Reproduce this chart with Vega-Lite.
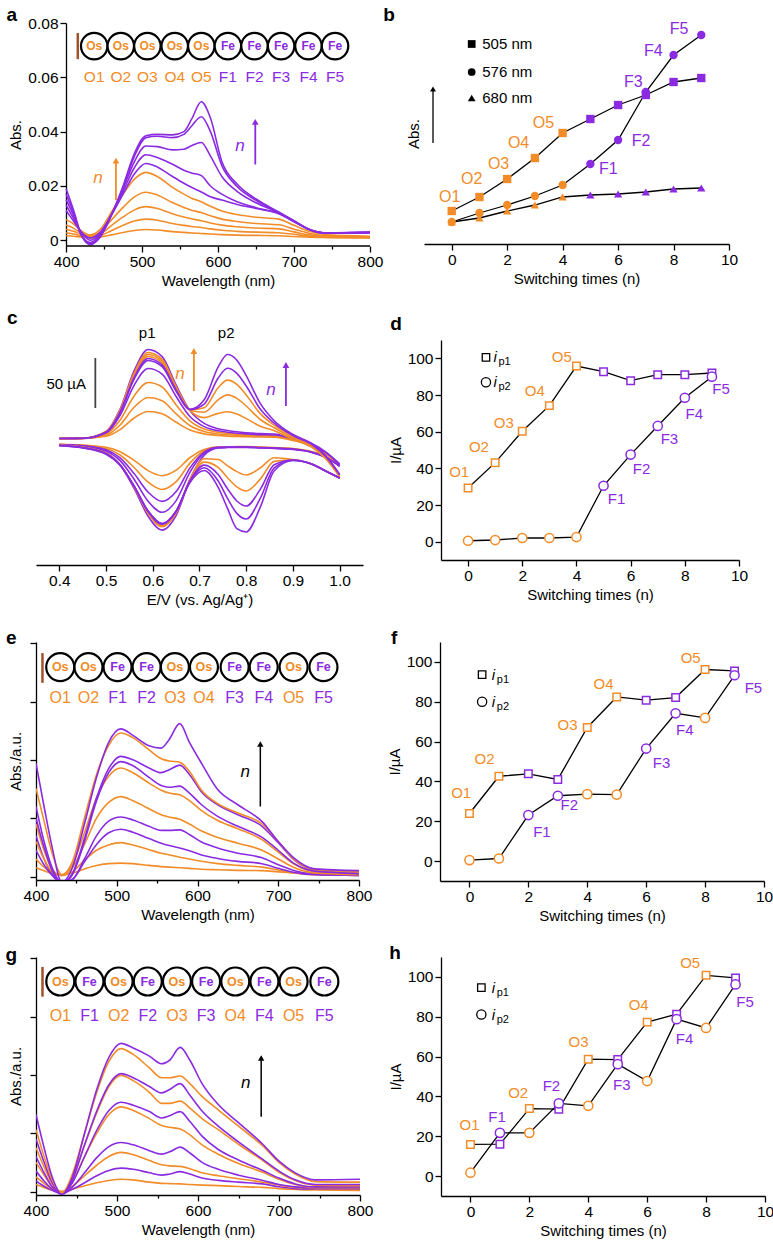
{
"$schema":"https://vega.github.io/schema/vega-lite/v6.json",
"config":{"font":"Liberation Sans","view":{"stroke":null},"axis":{"domainColor":"black","domainWidth":1.3,"tickColor":"black","tickWidth":1.3,"labelColor":"black","labelFontSize":15.5,"titleFontSize":15,"titleFontWeight":"normal","titleColor":"black","grid":false,"labelPadding":2,"labelFlush":false,"labelOverlap":false,"labelBound":false},"text":{"color":"black"}},
"datasets":{
"specA":[
{"x":400,"O1":0.0017,"O2":0.0028,"O3":0.0041,"O4":0.0056,"O5":0.0076,"F1":0.011,"F2":0.013,"F3":0.015,"F4":0.017,"F5":0.019},
{"x":410,"O1":0.0015,"O2":0.0023,"O3":0.0033,"O4":0.0044,"O5":0.006,"F1":0.007,"F2":0.008,"F3":0.009,"F4":0.01,"F5":0.011},
{"x":420,"O1":0.0012,"O2":0.0016,"O3":0.0021,"O4":0.0027,"O5":0.0035,"F1":0.003,"F2":0.003,"F3":0.002,"F4":0.002,"F5":0.002},
{"x":432,"O1":0.001,"O2":0.0011,"O3":0.0014,"O4":0.0016,"O5":0.002,"F1":0.0008,"F2":0,"F3":-0.0008,"F4":-0.0012,"F5":-0.0016},
{"x":445,"O1":0.0012,"O2":0.0017,"O3":0.0023,"O4":0.003,"O5":0.004,"F1":0.003,"F2":0.0025,"F3":0.002,"F4":0.0015,"F5":0.0012},
{"x":460,"O1":0.002,"O2":0.0036,"O3":0.0055,"O4":0.0076,"O5":0.0105,"F1":0.0095,"F2":0.0095,"F3":0.0095,"F4":0.0095,"F5":0.0095},
{"x":475,"O1":0.0029,"O2":0.0055,"O3":0.0086,"O4":0.0121,"O5":0.017,"F1":0.017,"F2":0.018,"F3":0.019,"F4":0.0195,"F5":0.02},
{"x":490,"O1":0.0036,"O2":0.0071,"O3":0.0112,"O4":0.016,"O5":0.0225,"F1":0.0245,"F2":0.0268,"F3":0.029,"F4":0.031,"F5":0.032},
{"x":505,"O1":0.004,"O2":0.0078,"O3":0.0124,"O4":0.0177,"O5":0.025,"F1":0.0283,"F2":0.0315,"F3":0.0347,"F4":0.0378,"F5":0.0385},
{"x":520,"O1":0.0038,"O2":0.0074,"O3":0.0117,"O4":0.0167,"O5":0.0235,"F1":0.027,"F2":0.0305,"F3":0.0345,"F4":0.0383,"F5":0.039},
{"x":540,"O1":0.0032,"O2":0.0062,"O3":0.0098,"O4":0.0139,"O5":0.0195,"F1":0.0235,"F2":0.028,"F3":0.0333,"F4":0.0378,"F5":0.0388},
{"x":555,"O1":0.0029,"O2":0.0055,"O3":0.0086,"O4":0.0121,"O5":0.017,"F1":0.021,"F2":0.0258,"F3":0.0335,"F4":0.039,"F5":0.04},
{"x":565,"O1":0.0027,"O2":0.0051,"O3":0.0079,"O4":0.0111,"O5":0.0155,"F1":0.0195,"F2":0.0248,"F3":0.0348,"F4":0.042,"F5":0.0445},
{"x":578,"O1":0.0025,"O2":0.0047,"O3":0.0072,"O4":0.0102,"O5":0.0142,"F1":0.0178,"F2":0.0238,"F3":0.036,"F4":0.0455,"F5":0.051},
{"x":590,"O1":0.0023,"O2":0.0042,"O3":0.0064,"O4":0.009,"O5":0.0125,"F1":0.016,"F2":0.02,"F3":0.031,"F4":0.04,"F5":0.045},
{"x":605,"O1":0.0021,"O2":0.0037,"O3":0.0056,"O4":0.0078,"O5":0.0108,"F1":0.0148,"F2":0.017,"F3":0.0235,"F4":0.0275,"F5":0.029},
{"x":625,"O1":0.0019,"O2":0.0033,"O3":0.005,"O4":0.0069,"O5":0.0095,"F1":0.0132,"F2":0.0142,"F3":0.018,"F4":0.0198,"F5":0.0207},
{"x":650,"O1":0.0018,"O2":0.003,"O3":0.0045,"O4":0.0062,"O5":0.0085,"F1":0.0117,"F2":0.012,"F3":0.0138,"F4":0.0147,"F5":0.0152},
{"x":680,"O1":0.0017,"O2":0.0028,"O3":0.0042,"O4":0.0057,"O5":0.0078,"F1":0.0098,"F2":0.0099,"F3":0.0101,"F4":0.0102,"F5":0.0104},
{"x":700,"O1":0.0014,"O2":0.0022,"O3":0.0031,"O4":0.0041,"O5":0.0055,"F1":0.0068,"F2":0.0069,"F3":0.007,"F4":0.0071,"F5":0.0072},
{"x":720,"O1":0.0011,"O2":0.0015,"O3":0.002,"O4":0.0026,"O5":0.0033,"F1":0.004,"F2":0.004,"F3":0.004,"F4":0.004,"F5":0.0041},
{"x":745,"O1":0.001,"O2":0.0011,"O3":0.0014,"O4":0.0016,"O5":0.002,"F1":0.0026,"F2":0.0026,"F3":0.0026,"F4":0.0026,"F5":0.0027},
{"x":800,"O1":0.0009,"O2":0.001,"O3":0.0011,"O4":0.0013,"O5":0.0015,"F1":0.0027,"F2":0.0028,"F3":0.0029,"F4":0.0029,"F5":0.003}
],
"specE":[
{"x":400,"O1":1.5,"O2":3,"O3":6,"O4":9,"O5":15.1,"F1":4.5,"F2":7,"F3":10,"F4":12,"F5":19.4},
{"x":410,"O1":1,"O2":1.6,"O3":3,"O4":4.5,"O5":9.5,"F1":2,"F2":3,"F3":5,"F4":6,"F5":12},
{"x":420,"O1":0.5,"O2":0.6,"O3":0.8,"O4":1.2,"O5":4,"F1":0.2,"F2":0.3,"F3":1,"F4":1.5,"F5":5},
{"x":432,"O1":0.3,"O2":0.2,"O3":0.2,"O4":0.2,"O5":0.3,"F1":-1,"F2":-1,"F3":-1.2,"F4":-1,"F5":-1},
{"x":445,"O1":0.6,"O2":0.8,"O3":1.5,"O4":2,"O5":2.5,"F1":-0.5,"F2":-0.5,"F3":0.3,"F4":0.5,"F5":1.5},
{"x":460,"O1":1.3,"O2":2.8,"O3":5.5,"O4":7.5,"O5":10,"F1":2.5,"F2":3,"F3":6,"F4":6.5,"F5":9},
{"x":475,"O1":1.9,"O2":4.5,"O3":10,"O4":13.5,"O5":17.5,"F1":5.5,"F2":7,"F3":13,"F4":13.5,"F5":17},
{"x":490,"O1":2.2,"O2":5.4,"O3":12.7,"O4":17.2,"O5":22.5,"F1":7.5,"F2":9.5,"F3":17.8,"F4":18.5,"F5":23},
{"x":505,"O1":2.3,"O2":5.8,"O3":13.7,"O4":18.6,"O5":24.6,"F1":8.1,"F2":10.2,"F3":19.7,"F4":20.6,"F5":25.3},
{"x":520,"O1":2.2,"O2":5.4,"O3":13,"O4":17.8,"O5":23.8,"F1":7.6,"F2":9.7,"F3":19,"F4":20,"F5":24.2},
{"x":540,"O1":1.9,"O2":4.6,"O3":11.6,"O4":16,"O5":21.7,"F1":6.5,"F2":8.6,"F3":17,"F4":18.6,"F5":22.4},
{"x":555,"O1":1.7,"O2":4,"O3":10.6,"O4":14.8,"O5":20.2,"F1":5.7,"F2":7.9,"F3":15.6,"F4":17.8,"F5":22},
{"x":565,"O1":1.6,"O2":3.7,"O3":10.2,"O4":14.3,"O5":19.8,"F1":5.3,"F2":7.9,"F3":15.3,"F4":18.3,"F5":23.5},
{"x":578,"O1":1.5,"O2":3.3,"O3":9.8,"O4":14,"O5":19.6,"F1":4.9,"F2":8,"F3":15.5,"F4":19.1,"F5":26.2},
{"x":590,"O1":1.4,"O2":3,"O3":9,"O4":13,"O5":18,"F1":4.4,"F2":7.2,"F3":14.3,"F4":17.5,"F5":23},
{"x":605,"O1":1.25,"O2":2.6,"O3":7.8,"O4":11.3,"O5":14.8,"F1":3.7,"F2":5.9,"F3":12.3,"F4":14.5,"F5":19.4},
{"x":625,"O1":1.15,"O2":2.2,"O3":6.7,"O4":9.6,"O5":12.5,"F1":3.1,"F2":4.9,"F3":10.3,"F4":12.3,"F5":14.9},
{"x":650,"O1":1.05,"O2":1.9,"O3":5.7,"O4":8.2,"O5":10.9,"F1":2.6,"F2":4,"F3":8.6,"F4":10.6,"F5":12.3},
{"x":680,"O1":1,"O2":1.6,"O3":4.5,"O4":6.3,"O5":9,"F1":2.2,"F2":3.2,"F3":6.7,"F4":8.6,"F5":9.4},
{"x":700,"O1":0.8,"O2":1.1,"O3":3,"O4":4.2,"O5":6,"F1":1.4,"F2":2,"F3":4.5,"F4":5.8,"F5":6},
{"x":720,"O1":0.6,"O2":0.6,"O3":1.5,"O4":2.1,"O5":2.9,"F1":0.7,"F2":1,"F3":2.2,"F4":2.8,"F5":3.1},
{"x":745,"O1":0.4,"O2":0.3,"O3":0.6,"O4":0.8,"O5":1.2,"F1":0.3,"F2":0.4,"F3":0.9,"F4":1.1,"F5":1.3},
{"x":800,"O1":0.3,"O2":0.2,"O3":0.3,"O4":0.4,"O5":0.8,"F1":0.2,"F2":0.2,"F3":0.5,"F4":0.6,"F5":1}
],
"specG":[
{"x":400,"O1":1.2,"O2":2.5,"O3":5,"O4":7.5,"O5":10.6,"F1":1.8,"F2":3.5,"F3":6,"F4":9,"F5":13.2},
{"x":410,"O1":0.7,"O2":1.4,"O3":2.8,"O4":4.2,"O5":6,"F1":0.9,"F2":1.8,"F3":3.2,"F4":5,"F5":7.5},
{"x":420,"O1":0.2,"O2":0.4,"O3":0.8,"O4":1.3,"O5":2,"F1":0.2,"F2":0.4,"F3":0.8,"F4":1.5,"F5":2.5},
{"x":432,"O1":0,"O2":0,"O3":-0.2,"O4":-0.2,"O5":-0.3,"F1":-0.3,"F2":-0.4,"F3":-0.5,"F4":-0.5,"F5":-0.5},
{"x":445,"O1":0.4,"O2":0.9,"O3":1.8,"O4":2.5,"O5":3,"F1":0.4,"F2":0.8,"F3":1.5,"F4":2,"F5":2.5},
{"x":460,"O1":1,"O2":2.7,"O3":6,"O4":8,"O5":10,"F1":1.5,"F2":3.2,"F3":6,"F4":8,"F5":10},
{"x":475,"O1":1.5,"O2":4.5,"O3":10,"O4":13.5,"O5":17,"F1":2.7,"F2":5.8,"F3":10.5,"F4":13.8,"F5":17.5},
{"x":490,"O1":1.9,"O2":6,"O3":13.2,"O4":18,"O5":22.3,"F1":3.6,"F2":7.7,"F3":13.9,"F4":18.3,"F5":23},
{"x":505,"O1":2.1,"O2":6.7,"O3":14.5,"O4":19.9,"O5":24.5,"F1":4,"F2":8.4,"F3":15.3,"F4":20.2,"F5":25.4},
{"x":520,"O1":2,"O2":6.3,"O3":13.9,"O4":19,"O5":23.5,"F1":3.8,"F2":8,"F3":14.8,"F4":19.5,"F5":24.6},
{"x":540,"O1":1.6,"O2":5.3,"O3":12.5,"O4":17,"O5":21.2,"F1":3.2,"F2":7,"F3":13.7,"F4":18,"F5":23.2},
{"x":555,"O1":1.4,"O2":4.6,"O3":11.3,"O4":15.1,"O5":19.5,"F1":2.8,"F2":6.4,"F3":12.6,"F4":16.9,"F5":21.9},
{"x":565,"O1":1.35,"O2":4.4,"O3":11,"O4":15.1,"O5":19.5,"F1":3,"F2":6.8,"F3":13,"F4":17.5,"F5":22.5},
{"x":578,"O1":1.3,"O2":4.3,"O3":10.7,"O4":15.5,"O5":19.8,"F1":3.4,"F2":7.6,"F3":13.7,"F4":18.5,"F5":24.7},
{"x":590,"O1":1.2,"O2":3.9,"O3":9.7,"O4":14.3,"O5":18.5,"F1":3,"F2":6.6,"F3":12,"F4":16.5,"F5":22.5},
{"x":605,"O1":1.1,"O2":3.2,"O3":8,"O4":12.5,"O5":16.3,"F1":2.3,"F2":5,"F3":9.5,"F4":13.8,"F5":18.5},
{"x":625,"O1":1,"O2":2.7,"O3":6.4,"O4":10.6,"O5":14,"F1":1.9,"F2":3.8,"F3":7.2,"F4":11.2,"F5":14.9},
{"x":650,"O1":0.85,"O2":2.2,"O3":4.8,"O4":8.1,"O5":11.2,"F1":1.6,"F2":2.8,"F3":5.4,"F4":8.5,"F5":11.8},
{"x":680,"O1":0.7,"O2":1.6,"O3":3.3,"O4":5.3,"O5":7.8,"F1":1.3,"F2":1.9,"F3":3.6,"F4":5.5,"F5":8.1},
{"x":700,"O1":0.5,"O2":1.1,"O3":2.1,"O4":3.3,"O5":5,"F1":0.8,"F2":1.2,"F3":2.3,"F4":3.5,"F5":5.2},
{"x":720,"O1":0.35,"O2":0.7,"O3":1.2,"O4":1.9,"O5":3,"F1":0.5,"F2":0.8,"F3":1.3,"F4":2,"F5":3.2},
{"x":745,"O1":0.25,"O2":0.5,"O3":0.7,"O4":1.1,"O5":1.7,"F1":0.4,"F2":0.6,"F3":0.8,"F4":1.2,"F5":2},
{"x":800,"O1":0.2,"O2":0.5,"O3":0.7,"O4":1,"O5":1.6,"F1":0.4,"F2":0.6,"F3":0.8,"F4":1.2,"F5":2.1}
],
"cv":[
{"x":0.40,"O1u":2.5,"O1d":-3.3,"O2u":2.5,"O2d":-3.5,"O3u":2.5,"O3d":-3.6,"O4u":2.5,"O4d":-3.7,"O5u":2.5,"O5d":-3.9,"F1u":2.5,"F1d":-4.1,"F2u":2.5,"F2d":-4.3,"F3u":2.5,"F3d":-4.4,"F4u":2.5,"F4d":-4.5,"F5u":2.5,"F5d":-4.7},
{"x":0.45,"O1u":2.6,"O1d":-4.0,"O2u":2.6,"O2d":-4.4,"O3u":2.6,"O3d":-4.7,"O4u":2.6,"O4d":-5.1,"O5u":2.7,"O5d":-5.6,"F1u":2.7,"F1d":-6.1,"F2u":2.7,"F2d":-6.3,"F3u":2.7,"F3d":-6.5,"F4u":2.7,"F4d":-6.8,"F5u":2.7,"F5d":-7.0},
{"x":0.50,"O1u":4.7,"O1d":-6.2,"O2u":5.8,"O2d":-7.6,"O3u":7.0,"O3d":-8.8,"O4u":8.1,"O4d":-9.9,"O5u":9.6,"O5d":-11.7,"F1u":9.4,"F1d":-12.1,"F2u":9.2,"F2d":-12.4,"F3u":9.1,"F3d":-12.6,"F4u":8.9,"F4d":-12.9,"F5u":8.7,"F5d":-13.2},
{"x":0.53,"O1u":11.4,"O1d":-10.7,"O2u":16,"O2d":-14,"O3u":21,"O3d":-16.9,"O4u":25.6,"O4d":-19.6,"O5u":31.9,"O5d":-23.9,"F1u":30.9,"F1d":-23.7,"F2u":30.2,"F2d":-23.8,"F3u":29.6,"F3d":-23.8,"F4u":28.9,"F4d":-24.1,"F5u":28.2,"F5d":-24.2},
{"x":0.56,"O1u":23,"O1d":-19.3,"O2u":33.7,"O2d":-26.5,"O3u":45.1,"O3d":-32.6,"O4u":55.7,"O4d":-38.2,"O5u":70.1,"O5d":-47.4,"F1u":67.9,"F1d":-46.0,"F2u":66.3,"F2d":-45.6,"F3u":64.8,"F3d":-45.2,"F4u":63.3,"F4d":-45.2,"F5u":61.8,"F5d":-45.2},
{"x":0.59,"O1u":29.5,"O1d":-29.6,"O2u":43.5,"O2d":-41.2,"O3u":58.5,"O3d":-51.1,"O4u":72.5,"O4d":-60.3,"O5u":91.5,"O5d":-75.2,"F1u":88.5,"F1d":-72.4,"F2u":86.5,"F2d":-71.4,"F3u":84.5,"F3d":-70.4,"F4u":82.5,"F4d":-70.2,"F5u":80.5,"F5d":-70.0},
{"x":0.62,"O1u":27.3,"O1d":-34.7,"O2u":40.2,"O2d":-48.5,"O3u":54,"O3d":-60.4,"O4u":66.9,"O4d":-71.3,"O5u":84.4,"O5d":-89.1,"F1u":81.6,"F1d":-85.7,"F2u":79.8,"F2d":-84.5,"F3u":77.9,"F3d":-83.2,"F4u":76.1,"F4d":-82.9,"F5u":74.3,"F5d":-82.5},
{"x":0.65,"O1u":18.7,"O1d":-29.2,"O2u":27.1,"O2d":-40.7,"O3u":36.1,"O3d":-50.6,"O4u":44.5,"O4d":-59.6,"O5u":55.9,"O5d":-74.3,"F1u":54.2,"F1d":-71.8,"F2u":53.1,"F2d":-71.1,"F3u":52.0,"F3d":-70.3,"F4u":50.9,"F4d":-70.1,"F5u":49.8,"F5d":-70.0},
{"x":0.68,"O1u":10.9,"O1d":-16.5,"O2u":15.2,"O2d":-21.9,"O3u":19.9,"O3d":-26.6,"O4u":24.2,"O4d":-30.9,"O5u":30.1,"O5d":-37.9,"F1u":30.4,"F1d":-37.9,"F2u":30.8,"F2d":-38.7,"F3u":31.2,"F3d":-39.4,"F4u":31.4,"F4d":-40.3,"F5u":31.7,"F5d":-41.2},
{"x":0.71,"O1u":7.1,"O1d":-8.4,"O2u":9.5,"O2d":-9.8,"O3u":12,"O3d":-11.1,"O4u":14.4,"O4d":-12.2,"O5u":17.6,"O5d":-14.1,"F1u":23.4,"F1d":-17.8,"F2u":28.7,"F2d":-21.1,"F3u":33.2,"F3d":-24.1,"F4u":36.9,"F4d":-26.8,"F5u":41.2,"F5d":-29.5},
{"x":0.74,"O1u":5.5,"O1d":-6.0,"O2u":7.0,"O2d":-6.2,"O3u":8.7,"O3d":-6.4,"O4u":10.2,"O4d":-6.6,"O5u":12.3,"O5d":-6.9,"F1u":27.6,"F1d":-18.5,"F2u":41.2,"F2d":-26.4,"F3u":53.3,"F3d":-33.6,"F4u":63.0,"F4d":-40.0,"F5u":74.2,"F5d":-46.3},
{"x":0.76,"O1u":4.9,"O1d":-6.2,"O2u":6.2,"O2d":-6.2,"O3u":7.5,"O3d":-6.3,"O4u":8.8,"O4d":-6.3,"O5u":10.5,"O5d":-6.4,"F1u":29.2,"F1d":-24.9,"F2u":46.1,"F2d":-36.7,"F3u":60.9,"F3d":-47.8,"F4u":72.7,"F4d":-57.4,"F5u":86.5,"F5d":-67.4},
{"x":0.78,"O1u":4.5,"O1d":-5.6,"O2u":5.6,"O2d":-5.8,"O3u":6.7,"O3d":-6,"O4u":7.8,"O4d":-6.2,"O5u":9.2,"O5d":-6.4,"F1u":26.9,"F1d":-30.6,"F2u":42.6,"F2d":-45.8,"F3u":56.6,"F3d":-60,"F4u":67.7,"F4d":-72.4,"F5u":80.8,"F5d":-87.7},
{"x":0.80,"O1u":4.3,"O1d":-5.6,"O2u":5.2,"O2d":-5.8,"O3u":6.1,"O3d":-6,"O4u":7.1,"O4d":-6.2,"O5u":8.3,"O5d":-6.4,"F1u":22.4,"F1d":-34.0,"F2u":35.0,"F2d":-50,"F3u":46.1,"F3d":-65,"F4u":55.0,"F4d":-78,"F5u":65.4,"F5d":-91},
{"x":0.83,"O1u":4.0,"O1d":-6.1,"O2u":4.8,"O2d":-6.3,"O3u":5.6,"O3d":-6.5,"O4u":6.4,"O4d":-6.7,"O5u":7.4,"O5d":-6.9,"F1u":14.8,"F1d":-27.0,"F2u":21.5,"F2d":-38.1,"F3u":27.4,"F3d":-48.4,"F4u":32.1,"F4d":-57.4,"F5u":37.6,"F5d":-66.3},
{"x":0.86,"O1u":3.9,"O1d":-6.6,"O2u":4.6,"O2d":-6.8,"O3u":5.3,"O3d":-7,"O4u":6.0,"O4d":-7.2,"O5u":7.0,"O5d":-7.4,"F1u":10.2,"F1d":-16.7,"F2u":13.2,"F2d":-20.4,"F3u":15.8,"F3d":-23.8,"F4u":17.8,"F4d":-26.8,"F5u":20.3,"F5d":-29.8},
{"x":0.90,"O1u":0.6,"O1d":-7.6,"O2u":1.1,"O2d":-7.8,"O3u":1.7,"O3d":-8,"O4u":2.3,"O4d":-8.2,"O5u":3.1,"O5d":-8.4,"F1u":1.6,"F1d":-18.5,"F2u":3.1,"F2d":-18.8,"F3u":4.4,"F3d":-19.0,"F4u":5.4,"F4d":-19.2,"F5u":6.5,"F5d":-19.5},
{"x":0.94,"O1u":-4.6,"O1d":-10.6,"O2u":-4.1,"O2d":-10.8,"O3u":-3.5,"O3d":-11,"O4u":-3,"O4d":-11.2,"O5u":-2.4,"O5d":-11.4,"F1u":-6.2,"F1d":-23,"F2u":-5.1,"F2d":-23,"F3u":-4.0,"F3d":-23,"F4u":-3.3,"F4d":-23,"F5u":-2.4,"F5d":-23},
{"x":0.97,"O1u":-12.7,"O1d":-15.6,"O2u":-12.3,"O2d":-15.8,"O3u":-11.8,"O3d":-16,"O4u":-11.4,"O4d":-16.2,"O5u":-10.8,"O5d":-16.4,"F1u":-17.8,"F1d":-30,"F2u":-16.8,"F2d":-30,"F3u":-15.9,"F3d":-30,"F4u":-15.3,"F4d":-30,"F5u":-14.6,"F5d":-30},
{"x":1.00,"O1u":-24.7,"O1d":-25,"O2u":-24.3,"O2d":-25,"O3u":-23.8,"O3d":-25,"O4u":-23.4,"O4d":-25,"O5u":-22.8,"O5d":-25,"F1u":-35.9,"F1d":-37,"F2u":-35.2,"F2d":-37,"F3u":-34.4,"F3d":-37,"F4u":-33.9,"F4d":-37,"F5u":-33.3,"F5d":-37}
],
"chainA":[{"x":437,"el":"Os","lab":"O1"},{"x":472,"el":"Os","lab":"O2"},{"x":507,"el":"Os","lab":"O3"},{"x":543,"el":"Os","lab":"O4"},{"x":578,"el":"Os","lab":"O5"},{"x":613,"el":"Fe","lab":"F1"},{"x":648,"el":"Fe","lab":"F2"},{"x":683,"el":"Fe","lab":"F3"},{"x":719,"el":"Fe","lab":"F4"},{"x":754,"el":"Fe","lab":"F5"}],
"chainE":[{"x":430,"el":"Os","lab":"O1"},{"x":465,"el":"Os","lab":"O2"},{"x":501,"el":"Fe","lab":"F1"},{"x":537,"el":"Fe","lab":"F2"},{"x":572,"el":"Os","lab":"O3"},{"x":608,"el":"Os","lab":"O4"},{"x":646,"el":"Fe","lab":"F3"},{"x":682,"el":"Fe","lab":"F4"},{"x":719,"el":"Os","lab":"O5"},{"x":756,"el":"Fe","lab":"F5"}],
"chainG":[{"x":430,"el":"Os","lab":"O1"},{"x":466,"el":"Fe","lab":"F1"},{"x":502,"el":"Os","lab":"O2"},{"x":538,"el":"Fe","lab":"F2"},{"x":574,"el":"Os","lab":"O3"},{"x":610,"el":"Fe","lab":"F3"},{"x":646,"el":"Os","lab":"O4"},{"x":682,"el":"Fe","lab":"F4"},{"x":718,"el":"Os","lab":"O5"},{"x":756,"el":"Fe","lab":"F5"}],
"bData":[
{"x":0,"k":"505","y":33,"c":"O"},{"x":1,"k":"505","y":47,"c":"O"},{"x":2,"k":"505","y":65,"c":"O"},{"x":3,"k":"505","y":86,"c":"O"},{"x":4,"k":"505","y":111,"c":"O"},{"x":5,"k":"505","y":125,"c":"F"},{"x":6,"k":"505","y":139,"c":"F"},{"x":7,"k":"505","y":149,"c":"F"},{"x":8,"k":"505","y":162,"c":"F"},{"x":9,"k":"505","y":166,"c":"F"},
{"x":0,"k":"576","y":22,"c":"O"},{"x":1,"k":"576","y":31,"c":"O"},{"x":2,"k":"576","y":39,"c":"O"},{"x":3,"k":"576","y":48,"c":"O"},{"x":4,"k":"576","y":59,"c":"O"},{"x":5,"k":"576","y":80,"c":"F"},{"x":6,"k":"576","y":104,"c":"F"},{"x":7,"k":"576","y":152,"c":"F"},{"x":8,"k":"576","y":189,"c":"F"},{"x":9,"k":"576","y":209,"c":"F"},
{"x":0,"k":"680","y":22,"c":"O"},{"x":1,"k":"680","y":26,"c":"O"},{"x":2,"k":"680","y":33,"c":"O"},{"x":3,"k":"680","y":39,"c":"O"},{"x":4,"k":"680","y":47,"c":"O"},{"x":5,"k":"680","y":49,"c":"F"},{"x":6,"k":"680","y":50,"c":"F"},{"x":7,"k":"680","y":52,"c":"F"},{"x":8,"k":"680","y":55,"c":"F"},{"x":9,"k":"680","y":56,"c":"F"}],
"bLeg":[{"k":"505","y":200,"t":"505 nm"},{"k":"576","y":172,"t":"576 nm"},{"k":"680","y":146,"t":"680 nm"}],
"bLab":[{"t":"O1","x":-0.07,"y":47,"c":"O"},{"t":"O2","x":0.72,"y":65,"c":"O"},{"t":"O3","x":1.69,"y":80,"c":"O"},{"t":"O4","x":2.41,"y":101,"c":"O"},{"t":"O5","x":3.31,"y":121,"c":"O"},{"t":"F1","x":5.65,"y":75,"c":"F"},{"t":"F2","x":6.83,"y":103,"c":"F"},{"t":"F3","x":6.55,"y":162,"c":"F"},{"t":"F4","x":7.27,"y":193,"c":"F"},{"t":"F5","x":8.2,"y":215,"c":"F"}],
"dData":[
{"x":0,"k":"p1","y":29.3,"c":"O"},{"x":1,"k":"p1","y":43.1,"c":"O"},{"x":2,"k":"p1","y":60.2,"c":"O"},{"x":3,"k":"p1","y":74.2,"c":"O"},{"x":4,"k":"p1","y":95.8,"c":"O"},{"x":5,"k":"p1","y":92.7,"c":"F"},{"x":6,"k":"p1","y":87.8,"c":"F"},{"x":7,"k":"p1","y":91.1,"c":"F"},{"x":8,"k":"p1","y":91.1,"c":"F"},{"x":9,"k":"p1","y":92.0,"c":"F"},
{"x":0,"k":"p2","y":0.5,"c":"O"},{"x":1,"k":"p2","y":0.9,"c":"O"},{"x":2,"k":"p2","y":2.0,"c":"O"},{"x":3,"k":"p2","y":2.0,"c":"O"},{"x":4,"k":"p2","y":2.5,"c":"O"},{"x":5,"k":"p2","y":30.5,"c":"F"},{"x":6,"k":"p2","y":47.5,"c":"F"},{"x":7,"k":"p2","y":63.1,"c":"F"},{"x":8,"k":"p2","y":78.5,"c":"F"},{"x":9,"k":"p2","y":90.0,"c":"F"}],
"dLab":[{"t":"O1","x":-0.33,"y":37.8,"c":"O"},{"t":"O2","x":0.4,"y":51.5,"c":"O"},{"t":"O3","x":1.32,"y":64.5,"c":"O"},{"t":"O4","x":2.46,"y":82.4,"c":"O"},{"t":"O5","x":3.46,"y":100.5,"c":"O"},{"t":"F1","x":5.48,"y":23.3,"c":"F"},{"t":"F2","x":6.4,"y":39.6,"c":"F"},{"t":"F3","x":7.43,"y":56,"c":"F"},{"t":"F4","x":8.35,"y":69.6,"c":"F"},{"t":"F5","x":9.34,"y":83.3,"c":"F"}],
"fData":[
{"x":0,"k":"p1","y":23.9,"c":"O"},{"x":1,"k":"p1","y":42.6,"c":"O"},{"x":2,"k":"p1","y":43.8,"c":"F"},{"x":3,"k":"p1","y":41.0,"c":"F"},{"x":4,"k":"p1","y":67.1,"c":"O"},{"x":5,"k":"p1","y":82.4,"c":"O"},{"x":6,"k":"p1","y":80.8,"c":"F"},{"x":7,"k":"p1","y":82.1,"c":"F"},{"x":8,"k":"p1","y":96.2,"c":"O"},{"x":9,"k":"p1","y":95.5,"c":"F"},
{"x":0,"k":"p2","y":0.5,"c":"O"},{"x":1,"k":"p2","y":1.3,"c":"O"},{"x":2,"k":"p2","y":23.1,"c":"F"},{"x":3,"k":"p2","y":32.8,"c":"F"},{"x":4,"k":"p2","y":33.6,"c":"O"},{"x":5,"k":"p2","y":33.4,"c":"O"},{"x":6,"k":"p2","y":56.5,"c":"F"},{"x":7,"k":"p2","y":74.2,"c":"F"},{"x":8,"k":"p2","y":71.9,"c":"O"},{"x":9,"k":"p2","y":93.3,"c":"F"}],
"fLab":[{"t":"O1","x":-0.28,"y":34,"c":"O"},{"t":"O2","x":0.51,"y":51.2,"c":"O"},{"t":"O3","x":3.33,"y":68.2,"c":"O"},{"t":"O4","x":4.55,"y":89.1,"c":"O"},{"t":"O5","x":7.51,"y":102,"c":"O"},{"t":"F1","x":2.46,"y":14.7,"c":"F"},{"t":"F2","x":3.39,"y":28.1,"c":"F"},{"t":"F3","x":6.52,"y":49,"c":"F"},{"t":"F4","x":7.31,"y":66,"c":"F"},{"t":"F5","x":9.64,"y":87,"c":"F"}],
"hData":[
{"x":0,"k":"p1","y":15.9,"c":"O"},{"x":1,"k":"p1","y":16.0,"c":"F"},{"x":2,"k":"p1","y":33.9,"c":"O"},{"x":3,"k":"p1","y":33.6,"c":"F"},{"x":4,"k":"p1","y":58.7,"c":"O"},{"x":5,"k":"p1","y":58.5,"c":"F"},{"x":6,"k":"p1","y":77.3,"c":"O"},{"x":7,"k":"p1","y":81.3,"c":"F"},{"x":8,"k":"p1","y":100.8,"c":"O"},{"x":9,"k":"p1","y":99.5,"c":"F"},
{"x":0,"k":"p2","y":1.7,"c":"O"},{"x":1,"k":"p2","y":21.7,"c":"F"},{"x":2,"k":"p2","y":21.7,"c":"O"},{"x":3,"k":"p2","y":36.5,"c":"F"},{"x":4,"k":"p2","y":35.3,"c":"O"},{"x":5,"k":"p2","y":56.2,"c":"F"},{"x":6,"k":"p2","y":47.7,"c":"O"},{"x":7,"k":"p2","y":78.8,"c":"F"},{"x":8,"k":"p2","y":74.4,"c":"O"},{"x":9,"k":"p2","y":96.2,"c":"F"}],
"hLab":[{"t":"O1","x":-0.03,"y":25.6,"c":"O"},{"t":"F1","x":0.9,"y":29.8,"c":"F"},{"t":"O2","x":1.62,"y":41.8,"c":"O"},{"t":"F2","x":2.75,"y":45.2,"c":"F"},{"t":"O3","x":3.67,"y":67.4,"c":"O"},{"t":"F3","x":5.14,"y":45.7,"c":"F"},{"t":"O4","x":5.71,"y":85.8,"c":"O"},{"t":"F4","x":7.27,"y":68.6,"c":"F"},{"t":"O5","x":7.46,"y":107,"c":"O"},{"t":"F5","x":9.32,"y":87.5,"c":"F"}],
"legD":[{"k":"p1","y":100.5},{"k":"p2","y":87}],
"legF":[{"k":"p1","y":93.6},{"k":"p2","y":80}],
"legH":[{"k":"p1","y":94.6},{"k":"p2","y":81.1}]
},
"spacing":20,
"vconcat":[
{"spacing":0,"hconcat":[
{"width":334,"height":223,"layer":[
{"data":{"name":"specA"},"transform":[{"fold":["O1","O2","O3","O4","O5","F1","F2","F3","F4","F5"],"as":["s","y"]}],"mark":{"type":"line","interpolate":"monotone","strokeWidth":1.6,"clip":true},
"encoding":{"x":{"field":"x","type":"quantitative","scale":{"domain":[360.4,800],"nice":false,"zero":false},"axis":{"title":"Wavelength (nm)","titleX":182,"domain":false,"values":[400,450,500,550,600,650,700,750,800],"labelExpr":"datum.value % 100 != 0 ? '' : datum.label","tickSize":{"condition":{"test":"datum.value % 100 != 0","value":3},"value":6}}},
"y":{"field":"y","type":"quantitative","scale":{"domain":[-0.0021,0.08],"nice":false,"zero":false},"axis":{"title":"Abs.","offset":-30,"values":[0,0.01,0.02,0.03,0.04,0.05,0.06,0.07,0.08],"labelExpr":"round(datum.value*100) % 2 == 1 ? '' : (datum.value == 0 ? '0' : format(datum.value,'.2f'))","tickSize":{"condition":{"test":"round(datum.value*100) % 2 == 1","value":3},"value":6}}},
"color":{"field":"s","type":"nominal","scale":{"domain":["O1","O2","O3","O4","O5","F1","F2","F3","F4","F5"],"range":["#F28C28","#F28C28","#F28C28","#F28C28","#F28C28","#8A2BE2","#8A2BE2","#8A2BE2","#8A2BE2","#8A2BE2"]},"legend":null}}},
{"data":{"values":[{}]},"mark":{"type":"rule","color":"black","strokeWidth":1.3},"encoding":{"x":{"datum":400},"x2":{"datum":800},"y":{"datum":-0.0021}}},
{"data":{"values":[{}]},"mark":{"type":"rule","color":"#A0522D","strokeWidth":2.5},"encoding":{"x":{"datum":415.4},"y":{"datum":0.0667},"y2":{"datum":0.0763}}},
{"data":{"name":"chainA"},"mark":{"type":"point","shape":"circle","size":700,"filled":true,"fill":"white","stroke":"black","strokeWidth":2.2,"opacity":1},"encoding":{"x":{"field":"x","type":"quantitative"},"y":{"datum":0.0715}}},
{"data":{"name":"chainA"},"mark":{"type":"text","fontWeight":"bold","fontSize":12},"encoding":{"x":{"field":"x","type":"quantitative"},"y":{"datum":0.0715},"text":{"field":"el"},"color":{"condition":{"test":"datum.el=='Os'","value":"#F28C28"},"value":"#8A2BE2"}}},
{"data":{"name":"chainA"},"mark":{"type":"text","fontSize":15.5},"encoding":{"x":{"field":"x","type":"quantitative"},"y":{"datum":0.0601},"text":{"field":"lab"},"color":{"condition":{"test":"datum.el=='Os'","value":"#F28C28"},"value":"#8A2BE2"}}},
{"data":{"values":[{}]},"mark":{"type":"rule","color":"#F28C28","strokeWidth":1.8},"encoding":{"x":{"datum":465.6},"y":{"datum":0.0148},"y2":{"datum":0.029}}},
{"data":{"values":[{}]},"mark":{"type":"point","shape":"triangle-up","filled":true,"size":45,"color":"#F28C28","opacity":1},"encoding":{"x":{"datum":465.6},"y":{"datum":0.0293}}},
{"data":{"values":[{}]},"mark":{"type":"text","fontStyle":"italic","fontSize":17,"color":"#F28C28"},"encoding":{"x":{"datum":442},"y":{"datum":0.023},"text":{"value":"n"}}},
{"data":{"values":[{}]},"mark":{"type":"rule","color":"#8A2BE2","strokeWidth":1.8},"encoding":{"x":{"datum":649},"y":{"datum":0.0279},"y2":{"datum":0.0432}}},
{"data":{"values":[{}]},"mark":{"type":"point","shape":"triangle-up","filled":true,"size":45,"color":"#8A2BE2","opacity":1},"encoding":{"x":{"datum":649},"y":{"datum":0.0436}}},
{"data":{"values":[{}]},"mark":{"type":"text","fontStyle":"italic","fontSize":17,"color":"#8A2BE2"},"encoding":{"x":{"datum":629},"y":{"datum":0.0347},"text":{"value":"n"}}},
{"data":{"values":[{}]},"mark":{"type":"text","fontSize":19,"fontWeight":"bold"},"encoding":{"x":{"datum":328.6},"y":{"datum":0.0829},"text":{"value":"a"}}}
]},
{"width":305,"height":221,"layer":[
{"data":{"name":"bData"},"mark":{"type":"line","color":"black","strokeWidth":1.3},"encoding":{"x":{"field":"x","type":"quantitative","scale":{"domain":[-1,10],"nice":false,"zero":false},"axis":{"title":"Switching times (n)","values":[0,1,2,3,4,5,6,7,8,9,10],"labelExpr":"datum.value % 2 == 1 ? '' : datum.label","tickSize":{"condition":{"test":"datum.value % 2 == 1","value":3},"value":6}}},"y":{"field":"y","type":"quantitative","scale":{"domain":[0,221],"nice":false,"zero":false},"axis":{"title":"Abs.","domain":false,"ticks":false,"labels":false,"titlePadding":3}},"detail":{"field":"k"}}},
{"data":{"name":"bData"},"mark":{"type":"point","filled":true,"opacity":1,"size":70},"encoding":{"x":{"field":"x","type":"quantitative"},"y":{"field":"y","type":"quantitative"},"shape":{"field":"k","type":"nominal","scale":{"domain":["505","576","680"],"range":["square","circle","triangle-up"]},"legend":null},"color":{"condition":{"test":"datum.c=='O'","value":"#F28C28"},"value":"#8A2BE2"}}},
{"data":{"name":"bLeg"},"mark":{"type":"point","filled":true,"opacity":1,"size":60,"color":"black"},"encoding":{"x":{"datum":0.72},"y":{"field":"y","type":"quantitative"},"shape":{"field":"k","type":"nominal"}}},
{"data":{"name":"bLeg"},"mark":{"type":"text","align":"left","fontSize":15},"encoding":{"x":{"datum":1.1},"y":{"field":"y","type":"quantitative"},"text":{"field":"t"}}},
{"data":{"name":"bLab"},"mark":{"type":"text","fontSize":16},"encoding":{"x":{"field":"x","type":"quantitative"},"y":{"field":"y","type":"quantitative"},"text":{"field":"t"},"color":{"condition":{"test":"datum.c=='O'","value":"#F28C28"},"value":"#8A2BE2"}}},
{"data":{"values":[{}]},"mark":{"type":"rule","color":"black","strokeWidth":1.3},"encoding":{"x":{"datum":-0.675},"y":{"datum":101},"y2":{"datum":153}}},
{"data":{"values":[{}]},"mark":{"type":"point","shape":"triangle-up","filled":true,"size":35,"color":"black","opacity":1},"encoding":{"x":{"datum":-0.675},"y":{"datum":155}}},
{"data":{"values":[{}]},"mark":{"type":"text","fontSize":19,"fontWeight":"bold"},"encoding":{"x":{"datum":-2.26},"y":{"datum":229},"text":{"value":"b"}}}
]}
]},
{"spacing":25,"hconcat":[
{"width":327,"height":225,"layer":[
{"data":{"name":"cv"},"transform":[{"fold":["O1u","O1d","O2u","O2d","O3u","O3d","O4u","O4d","O5u","O5d","F1u","F1d","F2u","F2d","F3u","F3d","F4u","F4d","F5u","F5d"],"as":["s","y"]}],"mark":{"type":"line","interpolate":"monotone","strokeWidth":1.6},
"encoding":{"x":{"field":"x","type":"quantitative","scale":{"domain":[0.35,1.05],"nice":false,"zero":false},"axis":{"title":"E/V (vs. Ag/Ag⁺)","format":".1f","values":[0.4,0.5,0.6,0.7,0.8,0.9,1.0],"tickSize":6,"labels":true,"labelOpacity":1}},
"y":{"field":"y","type":"quantitative","scale":{"domain":[-124,101],"nice":false,"zero":false},"axis":{"title":null,"domain":false,"ticks":false,"labels":false}},
"color":{"field":"s","type":"nominal","scale":{"domain":["O1u","O1d","O2u","O2d","O3u","O3d","O4u","O4d","O5u","O5d","F1u","F1d","F2u","F2d","F3u","F3d","F4u","F4d","F5u","F5d"],"range":["#F28C28","#F28C28","#F28C28","#F28C28","#F28C28","#F28C28","#F28C28","#F28C28","#F28C28","#F28C28","#8A2BE2","#8A2BE2","#8A2BE2","#8A2BE2","#8A2BE2","#8A2BE2","#8A2BE2","#8A2BE2","#8A2BE2","#8A2BE2"]},"legend":null}}},
{"data":{"values":[{}]},"mark":{"type":"rule","color":"#444444","strokeWidth":1.8},"encoding":{"x":{"datum":0.477},"y":{"datum":33},"y2":{"datum":83}}},
{"data":{"values":[{}]},"mark":{"type":"text","fontSize":15,"align":"right"},"encoding":{"x":{"datum":0.457},"y":{"datum":57},"text":{"value":"50 µA"}}},
{"data":{"values":[{}]},"mark":{"type":"text","fontSize":15},"encoding":{"x":{"datum":0.588},"y":{"datum":108},"text":{"value":"p1"}}},
{"data":{"values":[{}]},"mark":{"type":"text","fontSize":15},"encoding":{"x":{"datum":0.757},"y":{"datum":108},"text":{"value":"p2"}}},
{"data":{"values":[{}]},"mark":{"type":"rule","color":"#F28C28","strokeWidth":1.8},"encoding":{"x":{"datum":0.688},"y":{"datum":50},"y2":{"datum":88}}},
{"data":{"values":[{}]},"mark":{"type":"point","shape":"triangle-up","filled":true,"size":45,"color":"#F28C28","opacity":1},"encoding":{"x":{"datum":0.688},"y":{"datum":90}}},
{"data":{"values":[{}]},"mark":{"type":"text","fontStyle":"italic","fontSize":17,"color":"#F28C28"},"encoding":{"x":{"datum":0.658},"y":{"datum":67},"text":{"value":"n"}}},
{"data":{"values":[{}]},"mark":{"type":"rule","color":"#8A2BE2","strokeWidth":1.8},"encoding":{"x":{"datum":0.885},"y":{"datum":35},"y2":{"datum":74}}},
{"data":{"values":[{}]},"mark":{"type":"point","shape":"triangle-up","filled":true,"size":45,"color":"#8A2BE2","opacity":1},"encoding":{"x":{"datum":0.885},"y":{"datum":76}}},
{"data":{"values":[{}]},"mark":{"type":"text","fontStyle":"italic","fontSize":17,"color":"#8A2BE2"},"encoding":{"x":{"datum":0.853},"y":{"datum":51},"text":{"value":"n"}}},
{"data":{"values":[{}]},"mark":{"type":"text","fontSize":19,"fontWeight":"bold"},"encoding":{"x":{"datum":0.299},"y":{"datum":123},"text":{"value":"c"}}}
]},
{"width":298,"height":220,"layer":[
{"data":{"name":"dData"},"mark":{"type":"line","color":"black","strokeWidth":1.3},"encoding":{"x":{"field":"x","type":"quantitative","scale":{"domain":[-1,10],"nice":false,"zero":false},"axis":{"title":"Switching times (n)","values":[0,1,2,3,4,5,6,7,8,9,10],"labelExpr":"datum.value % 2 == 1 ? '' : datum.label","tickSize":{"condition":{"test":"datum.value % 2 == 1","value":3},"value":6}}},"y":{"field":"y","type":"quantitative","scale":{"domain":[-10,110],"nice":false,"zero":false},"axis":{"title":"I/µA","values":[0,10,20,30,40,50,60,70,80,90,100],"labelExpr":"datum.value % 20 == 10 ? '' : datum.label","tickSize":{"condition":{"test":"datum.value % 20 == 10","value":3},"value":6}}},"detail":{"field":"k"}}},
{"data":{"name":"dData"},"mark":{"type":"point","filled":true,"fill":"white","strokeWidth":1.5,"opacity":1},"encoding":{"x":{"field":"x","type":"quantitative"},"y":{"field":"y","type":"quantitative"},"shape":{"field":"k","type":"nominal","scale":{"domain":["p1","p2"],"range":["square","circle"]},"legend":null},"size":{"field":"k","type":"ordinal","scale":{"domain":["p1","p2"],"range":[56,85]},"legend":null},"stroke":{"condition":{"test":"datum.c=='O'","value":"#F28C28"},"value":"#8A2BE2"}}},
{"data":{"name":"legD"},"mark":{"type":"point","filled":true,"fill":"white","stroke":"black","strokeWidth":1.3,"opacity":1},"encoding":{"x":{"datum":0.66},"y":{"field":"y","type":"quantitative"},"shape":{"field":"k","type":"nominal"},"size":{"field":"k","type":"ordinal"}}},
{"data":{"name":"legD"},"mark":{"type":"text","align":"left","fontSize":15,"fontStyle":"italic"},"encoding":{"x":{"datum":0.94},"y":{"field":"y","type":"quantitative"},"text":{"value":"i"}}},
{"data":{"name":"legD"},"mark":{"type":"text","align":"left","fontSize":11,"dy":5},"encoding":{"x":{"datum":1.12},"y":{"field":"y","type":"quantitative"},"text":{"field":"k"}}},
{"data":{"name":"dLab"},"mark":{"type":"text","fontSize":15},"encoding":{"x":{"field":"x","type":"quantitative"},"y":{"field":"y","type":"quantitative"},"text":{"field":"t"},"color":{"condition":{"test":"datum.c=='O'","value":"#F28C28"},"value":"#8A2BE2"}}},
{"data":{"values":[{}]},"mark":{"type":"text","fontSize":19,"fontWeight":"bold"},"encoding":{"x":{"datum":-2.66},"y":{"datum":118.7},"text":{"value":"d"}}}
]}
]},
{"spacing":15,"hconcat":[
{"width":323,"height":238,"layer":[
{"data":{"name":"specE"},"transform":[{"fold":["O1","O2","F1","F2","O3","O4","F3","F4","O5","F5"],"as":["s","y"]}],"mark":{"type":"line","interpolate":"monotone","strokeWidth":1.6,"clip":true},
"encoding":{"x":{"field":"x","type":"quantitative","scale":{"domain":[400,800],"nice":false,"zero":false},"axis":{"title":"Wavelength (nm)","values":[400,450,500,550,600,650,700,750,800],"labelExpr":"datum.value % 100 != 0 ? '' : datum.label","tickSize":{"condition":{"test":"datum.value % 100 != 0","value":3},"value":6}}},
"y":{"field":"y","type":"quantitative","scale":{"domain":[-0.6,40.2],"nice":false,"zero":false},"axis":{"title":"Abs./a.u.","values":[0,5,10,15,20,25,30,35,40],"labels":false,"tickSize":{"condition":{"test":"datum.value % 10 == 5","value":3},"value":6},"titlePadding":6}},
"color":{"field":"s","type":"nominal","scale":{"domain":["O1","O2","F1","F2","O3","O4","F3","F4","O5","F5"],"range":["#F28C28","#F28C28","#8A2BE2","#8A2BE2","#F28C28","#F28C28","#8A2BE2","#8A2BE2","#F28C28","#8A2BE2"]},"legend":null}}},
{"data":{"values":[{}]},"mark":{"type":"rule","color":"#A0522D","strokeWidth":2.5},"encoding":{"x":{"datum":408},"y":{"datum":33.2},"y2":{"datum":38.3}}},
{"data":{"name":"chainE"},"mark":{"type":"point","shape":"circle","size":784,"filled":true,"fill":"white","stroke":"black","strokeWidth":2.2,"opacity":1},"encoding":{"x":{"field":"x","type":"quantitative"},"y":{"datum":35.9}}},
{"data":{"name":"chainE"},"mark":{"type":"text","fontWeight":"bold","fontSize":12.5},"encoding":{"x":{"field":"x","type":"quantitative"},"y":{"datum":35.9},"text":{"field":"el"},"color":{"condition":{"test":"datum.el=='Os'","value":"#F28C28"},"value":"#8A2BE2"}}},
{"data":{"name":"chainE"},"mark":{"type":"text","fontSize":16},"encoding":{"x":{"field":"x","type":"quantitative"},"y":{"datum":30.6},"text":{"field":"lab"},"color":{"condition":{"test":"datum.el=='Os'","value":"#F28C28"},"value":"#8A2BE2"}}},
{"data":{"values":[{}]},"mark":{"type":"rule","color":"black","strokeWidth":1.5},"encoding":{"x":{"datum":677.8},"y":{"datum":12},"y2":{"datum":22.3}}},
{"data":{"values":[{}]},"mark":{"type":"point","shape":"triangle-up","filled":true,"size":40,"color":"black","opacity":1},"encoding":{"x":{"datum":677.8},"y":{"datum":22.7}}},
{"data":{"values":[{}]},"mark":{"type":"text","fontStyle":"italic","fontSize":17},"encoding":{"x":{"datum":659},"y":{"datum":18},"text":{"value":"n"}}},
{"data":{"values":[{}]},"mark":{"type":"text","fontSize":19,"fontWeight":"bold"},"encoding":{"x":{"datum":369.4},"y":{"datum":40.9},"text":{"value":"e"}}}
]},
{"width":324,"height":239,"layer":[
{"data":{"name":"fData"},"mark":{"type":"line","color":"black","strokeWidth":1.3},"encoding":{"x":{"field":"x","type":"quantitative","scale":{"domain":[-1,10],"nice":false,"zero":false},"axis":{"title":"Switching times (n)","values":[0,1,2,3,4,5,6,7,8,9,10],"labelExpr":"datum.value % 2 == 1 ? '' : datum.label","tickSize":{"condition":{"test":"datum.value % 2 == 1","value":3},"value":6}}},"y":{"field":"y","type":"quantitative","scale":{"domain":[-10,110],"nice":false,"zero":false},"axis":{"title":"I/µA","values":[0,10,20,30,40,50,60,70,80,90,100],"labelExpr":"datum.value % 20 == 10 ? '' : datum.label","tickSize":{"condition":{"test":"datum.value % 20 == 10","value":3},"value":6}}},"detail":{"field":"k"}}},
{"data":{"name":"fData"},"mark":{"type":"point","filled":true,"fill":"white","strokeWidth":1.5,"opacity":1},"encoding":{"x":{"field":"x","type":"quantitative"},"y":{"field":"y","type":"quantitative"},"shape":{"field":"k","type":"nominal","scale":{"domain":["p1","p2"],"range":["square","circle"]},"legend":null},"size":{"field":"k","type":"ordinal","scale":{"domain":["p1","p2"],"range":[56,85]},"legend":null},"stroke":{"condition":{"test":"datum.c=='O'","value":"#F28C28"},"value":"#8A2BE2"}}},
{"data":{"name":"legF"},"mark":{"type":"point","filled":true,"fill":"white","stroke":"black","strokeWidth":1.3,"opacity":1},"encoding":{"x":{"datum":0.43},"y":{"field":"y","type":"quantitative"},"shape":{"field":"k","type":"nominal"},"size":{"field":"k","type":"ordinal"}}},
{"data":{"name":"legF"},"mark":{"type":"text","align":"left","fontSize":15,"fontStyle":"italic"},"encoding":{"x":{"datum":0.76},"y":{"field":"y","type":"quantitative"},"text":{"value":"i"}}},
{"data":{"name":"legF"},"mark":{"type":"text","align":"left","fontSize":11,"dy":5},"encoding":{"x":{"datum":0.93},"y":{"field":"y","type":"quantitative"},"text":{"field":"k"}}},
{"data":{"name":"fLab"},"mark":{"type":"text","fontSize":15},"encoding":{"x":{"field":"x","type":"quantitative"},"y":{"field":"y","type":"quantitative"},"text":{"field":"t"},"color":{"condition":{"test":"datum.c=='O'","value":"#F28C28"},"value":"#8A2BE2"}}},
{"data":{"values":[{}]},"mark":{"type":"text","fontSize":19,"fontWeight":"bold"},"encoding":{"x":{"datum":-2.56},"y":{"datum":112},"text":{"value":"f"}}}
]}
]},
{"spacing":15,"hconcat":[
{"width":324,"height":238,"layer":[
{"data":{"name":"specG"},"transform":[{"fold":["O1","F1","O2","F2","O3","F3","O4","F4","O5","F5"],"as":["s","y"]}],"mark":{"type":"line","interpolate":"monotone","strokeWidth":1.6,"clip":true},
"encoding":{"x":{"field":"x","type":"quantitative","scale":{"domain":[400,800],"nice":false,"zero":false},"axis":{"title":"Wavelength (nm)","values":[400,450,500,550,600,650,700,750,800],"labelExpr":"datum.value % 100 != 0 ? '' : datum.label","tickSize":{"condition":{"test":"datum.value % 100 != 0","value":3},"value":6}}},
"y":{"field":"y","type":"quantitative","scale":{"domain":[-0.6,40.2],"nice":false,"zero":false},"axis":{"title":"Abs./a.u.","values":[0,5,10,15,20,25,30,35,40],"labels":false,"tickSize":{"condition":{"test":"datum.value % 10 == 5","value":3},"value":6},"titlePadding":6}},
"color":{"field":"s","type":"nominal","scale":{"domain":["O1","F1","O2","F2","O3","F3","O4","F4","O5","F5"],"range":["#F28C28","#8A2BE2","#F28C28","#8A2BE2","#F28C28","#8A2BE2","#F28C28","#8A2BE2","#F28C28","#8A2BE2"]},"legend":null}}},
{"data":{"values":[{}]},"mark":{"type":"rule","color":"#A0522D","strokeWidth":2.5},"encoding":{"x":{"datum":408},"y":{"datum":33.4},"y2":{"datum":38.5}}},
{"data":{"name":"chainG"},"mark":{"type":"point","shape":"circle","size":784,"filled":true,"fill":"white","stroke":"black","strokeWidth":2.2,"opacity":1},"encoding":{"x":{"field":"x","type":"quantitative"},"y":{"datum":36.0}}},
{"data":{"name":"chainG"},"mark":{"type":"text","fontWeight":"bold","fontSize":12.5},"encoding":{"x":{"field":"x","type":"quantitative"},"y":{"datum":36.0},"text":{"field":"el"},"color":{"condition":{"test":"datum.el=='Os'","value":"#F28C28"},"value":"#8A2BE2"}}},
{"data":{"name":"chainG"},"mark":{"type":"text","fontSize":16},"encoding":{"x":{"field":"x","type":"quantitative"},"y":{"datum":30.1},"text":{"field":"lab"},"color":{"condition":{"test":"datum.el=='Os'","value":"#F28C28"},"value":"#8A2BE2"}}},
{"data":{"values":[{}]},"mark":{"type":"rule","color":"black","strokeWidth":1.5},"encoding":{"x":{"datum":678},"y":{"datum":12.8},"y2":{"datum":22.5}}},
{"data":{"values":[{}]},"mark":{"type":"point","shape":"triangle-up","filled":true,"size":40,"color":"black","opacity":1},"encoding":{"x":{"datum":678},"y":{"datum":22.9}}},
{"data":{"values":[{}]},"mark":{"type":"text","fontStyle":"italic","fontSize":17},"encoding":{"x":{"datum":659},"y":{"datum":18.6},"text":{"value":"n"}}},
{"data":{"values":[{}]},"mark":{"type":"text","fontSize":19,"fontWeight":"bold"},"encoding":{"x":{"datum":369.4},"y":{"datum":40.6},"text":{"value":"g"}}}
]},
{"width":324,"height":239,"layer":[
{"data":{"name":"hData"},"mark":{"type":"line","color":"black","strokeWidth":1.3},"encoding":{"x":{"field":"x","type":"quantitative","scale":{"domain":[-1,10],"nice":false,"zero":false},"axis":{"title":"Switching times (n)","values":[0,1,2,3,4,5,6,7,8,9,10],"labelExpr":"datum.value % 2 == 1 ? '' : datum.label","tickSize":{"condition":{"test":"datum.value % 2 == 1","value":3},"value":6}}},"y":{"field":"y","type":"quantitative","scale":{"domain":[-10,110],"nice":false,"zero":false},"axis":{"title":"I/µA","values":[0,10,20,30,40,50,60,70,80,90,100],"labelExpr":"datum.value % 20 == 10 ? '' : datum.label","tickSize":{"condition":{"test":"datum.value % 20 == 10","value":3},"value":6}}},"detail":{"field":"k"}}},
{"data":{"name":"hData"},"mark":{"type":"point","filled":true,"fill":"white","strokeWidth":1.5,"opacity":1},"encoding":{"x":{"field":"x","type":"quantitative"},"y":{"field":"y","type":"quantitative"},"shape":{"field":"k","type":"nominal","scale":{"domain":["p1","p2"],"range":["square","circle"]},"legend":null},"size":{"field":"k","type":"ordinal","scale":{"domain":["p1","p2"],"range":[56,85]},"legend":null},"stroke":{"condition":{"test":"datum.c=='O'","value":"#F28C28"},"value":"#8A2BE2"}}},
{"data":{"name":"legH"},"mark":{"type":"point","filled":true,"fill":"white","stroke":"black","strokeWidth":1.3,"opacity":1},"encoding":{"x":{"datum":0.37},"y":{"field":"y","type":"quantitative"},"shape":{"field":"k","type":"nominal"},"size":{"field":"k","type":"ordinal"}}},
{"data":{"name":"legH"},"mark":{"type":"text","align":"left","fontSize":15,"fontStyle":"italic"},"encoding":{"x":{"datum":0.72},"y":{"field":"y","type":"quantitative"},"text":{"value":"i"}}},
{"data":{"name":"legH"},"mark":{"type":"text","align":"left","fontSize":11,"dy":5},"encoding":{"x":{"datum":0.89},"y":{"field":"y","type":"quantitative"},"text":{"field":"k"}}},
{"data":{"name":"hLab"},"mark":{"type":"text","fontSize":15},"encoding":{"x":{"field":"x","type":"quantitative"},"y":{"field":"y","type":"quantitative"},"text":{"field":"t"},"color":{"condition":{"test":"datum.c=='O'","value":"#F28C28"},"value":"#8A2BE2"}}},
{"data":{"values":[{}]},"mark":{"type":"text","fontSize":19,"fontWeight":"bold"},"encoding":{"x":{"datum":-2.56},"y":{"datum":112},"text":{"value":"h"}}}
]}
]}
]
}
